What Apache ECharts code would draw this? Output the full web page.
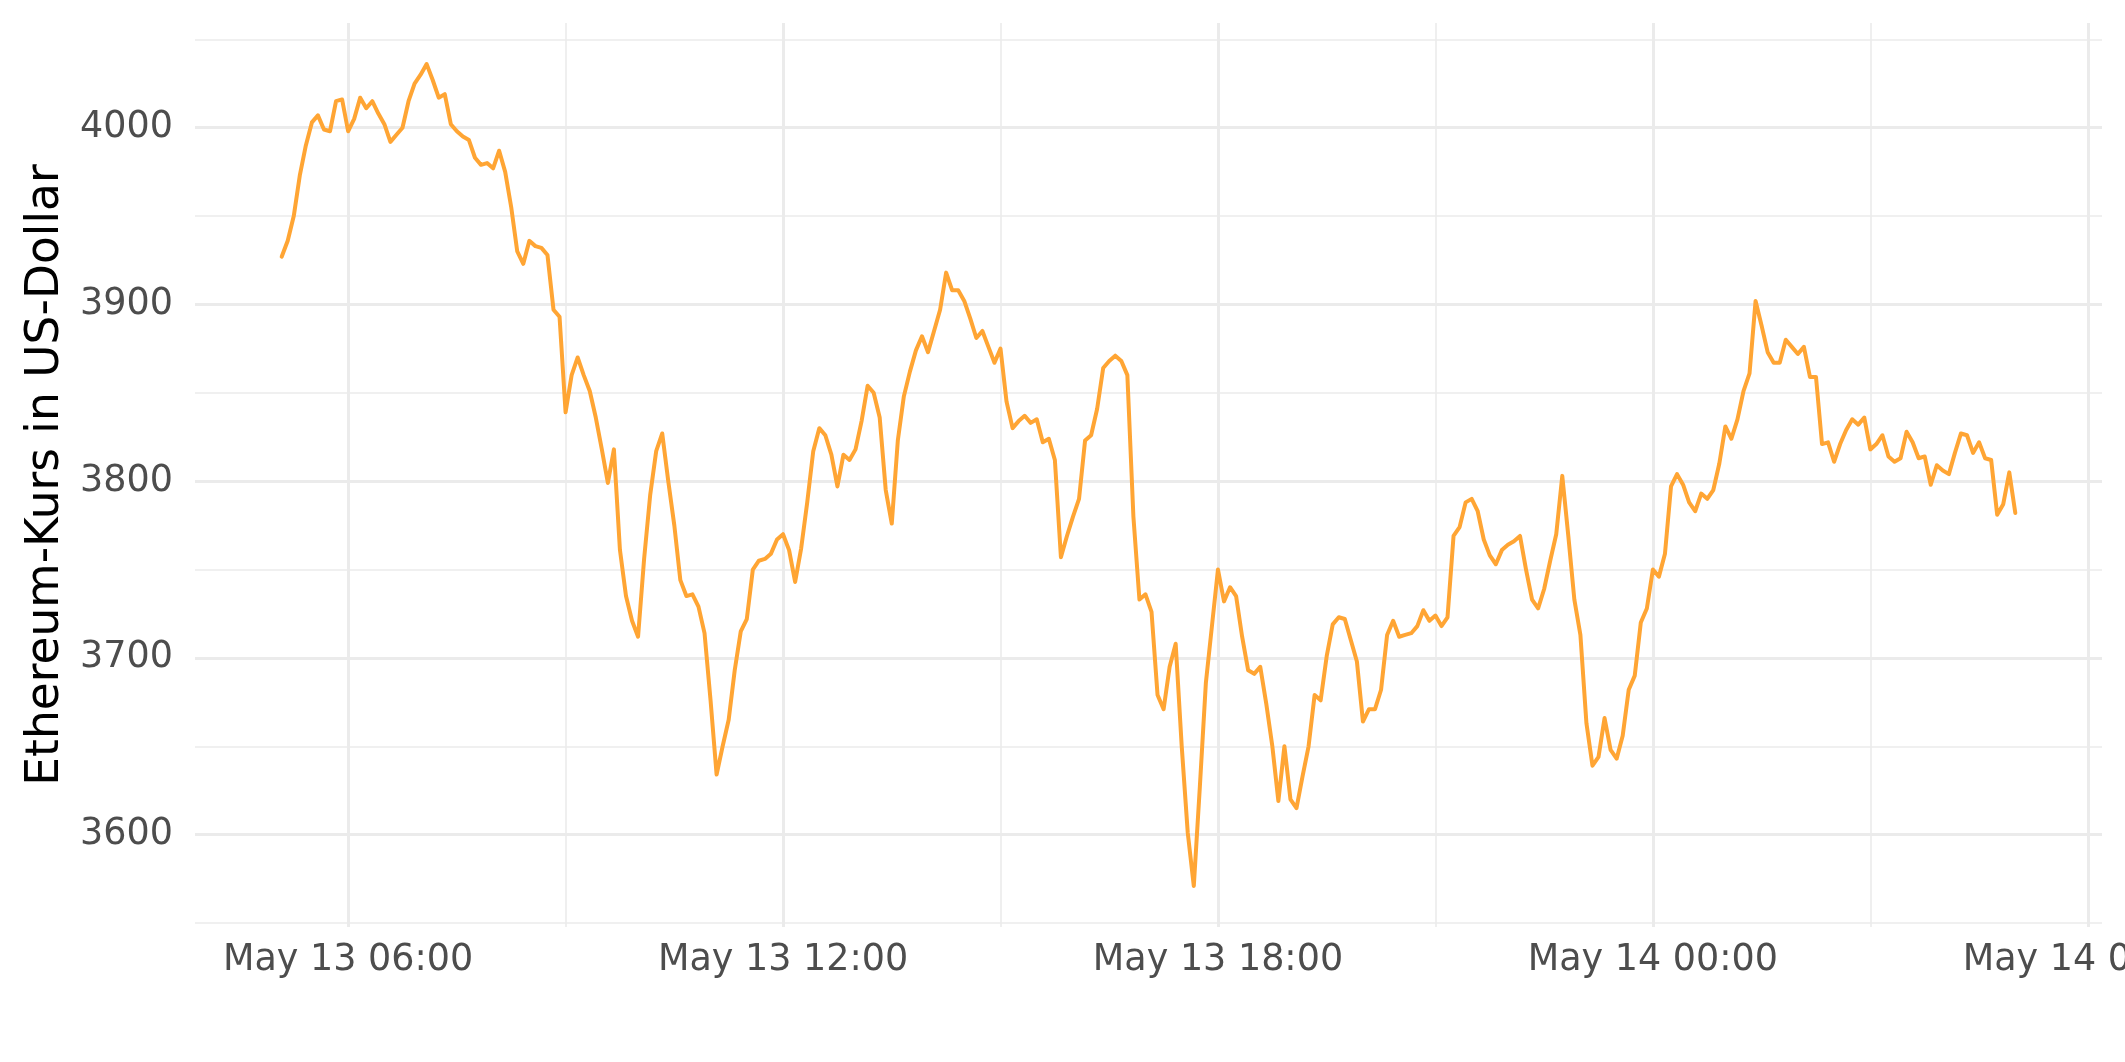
<!DOCTYPE html>
<html>
<head>
<meta charset="utf-8">
<script src="https://cdn.jsdelivr.net/npm/echarts@6/dist/echarts.min.js"></script>
<style>
  html, body { margin: 0; padding: 0; background: #ffffff; }
  #chart { width: 2125px; height: 1062px; }
</style>
</head>
<body>
<div id="chart"></div>
<script>
// ---- data ----
const startTime = Date.UTC(2021, 4, 13, 5, 5);   // first sample, May 13 05:05
const stepMinutes = 5;                            // one sample every 5 minutes

const prices = [
  3927,3936,3950,3973,3990,4003,4007,3999,3998,4015,
  4016,3998,4005,4017,4011,4015,4008,4002,3992,3996,
  4000,4015,4025,4030,4036,4027,4017,4019,4002,3998,
  3995,3993,3983,3979,3980,3977,3987,3975,3955,3930,
  3923,3936,3933,3932,3928,3897,3893,3839,3860,3870,
  3860,3851,3836,3818,3799,3818,3761,3735,3721,3712,
  3756,3792,3817,3827,3800,3775,3744,3735,3736,3729,
  3714,3676,3634,3650,3665,3693,3715,3722,3750,3755,
  3756,3759,3767,3770,3761,3743,3762,3788,3817,3830,
  3826,3815,3797,3815,3812,3818,3834,3854,3850,3836,
  3795,3776,3823,3848,3862,3874,3882,3873,3885,3897,
  3918,3908,3908,3902,3892,3881,3885,3876,3867,3875,
  3845,3830,3834,3837,3833,3835,3822,3824,3812,3757,
  3769,3780,3790,3823,3826,3841,3864,3868,3871,3868,
  3860,3780,3733,3736,3726,3679,3671,3695,3708,3650,
  3601,3571,3627,3686,3718,3750,3732,3740,3735,3712,
  3693,3691,3695,3674,3650,3619,3650,3620,3615,3633,
  3650,3679,3676,3701,3719,3723,3722,3710,3698,3664,
  3671,3671,3682,3713,3721,3712,3713,3714,3718,3727,
  3721,3724,3718,3723,3769,3774,3788,3790,3783,3767,
  3758,3753,3761,3764,3766,3769,3750,3733,3728,3739,
  3755,3770,3803,3769,3733,3713,3663,3639,3644,3666,
  3648,3643,3656,3682,3690,3720,3728,3750,3746,3759,
  3797,3804,3798,3788,3783,3793,3790,3795,3810,3831,
  3824,3835,3851,3861,3902,3888,3873,3867,3867,3880,
  3876,3872,3876,3859,3859,3821,3822,3811,3821,3829,
  3835,3832,3836,3818,3821,3826,3814,3811,3813,3828,
  3822,3813,3814,3798,3809,3806,3804,3816,3827,3826,
  3816,3822,3813,3812,3781,3787,3805,3782
];

const yMajorTicks = [3600, 3700, 3800, 3900, 4000];
const yMinorTicks = [3550, 3650, 3750, 3850, 3950, 4050];
const xMajorTicks = [
  Date.UTC(2021, 4, 13, 6), Date.UTC(2021, 4, 13, 12), Date.UTC(2021, 4, 13, 18),
  Date.UTC(2021, 4, 14, 0), Date.UTC(2021, 4, 14, 6)
];
const xMinorTicks = [
  Date.UTC(2021, 4, 13, 9), Date.UTC(2021, 4, 13, 15),
  Date.UTC(2021, 4, 13, 21), Date.UTC(2021, 4, 14, 3)
];
const monthNames = ['Jan','Feb','Mar','Apr','May','Jun','Jul','Aug','Sep','Oct','Nov','Dec'];
const yTitle = 'Ethereum-Kurs in US-Dollar';

// ---- build ----
const times = prices.map((_, i) => startTime + i * stepMinutes * 60000);
const seriesData = times.map((t, i) => [t, prices[i]]);

const tMin = times[0], tMax = times[times.length - 1], tSpan = tMax - tMin;
const pMin = Math.min(...prices), pMax = Math.max(...prices), pSpan = pMax - pMin;

function pad(n) { return (n < 10 ? '0' : '') + n; }
function fmtTime(v) {
  const d = new Date(Number(v));
  return monthNames[d.getUTCMonth()] + ' ' + d.getUTCDate() + ' ' +
         pad(d.getUTCHours()) + ':' + pad(d.getUTCMinutes());
}

const gridColor = '#ebebeb';
const majorW = 3, minorW = 1.6;
const gridLines = []
  .concat(yMajorTicks.map(v => ({ yAxis: v, lineStyle: { width: majorW, color: gridColor, type: 'solid' } })))
  .concat(yMinorTicks.map(v => ({ yAxis: v, lineStyle: { width: minorW, color: gridColor, type: 'solid' } })))
  .concat(xMajorTicks.map(v => ({ xAxis: v, lineStyle: { width: majorW, color: gridColor, type: 'solid' } })))
  .concat(xMinorTicks.map(v => ({ xAxis: v, lineStyle: { width: minorW, color: gridColor, type: 'solid' } })));

const font = 'DejaVu Sans';
const chart = echarts.init(document.getElementById('chart'), null, { renderer: 'canvas' });
chart.setOption({
  animation: false,
  backgroundColor: '#ffffff',
  grid: { left: 195, right: 23, top: 23, bottom: 135, containLabel: false, outerBoundsMode: 'none' },
  xAxis: {
    type: 'value',
    min: tMin - 0.05 * tSpan,
    max: tMax + 0.05 * tSpan,
    scale: true,
    axisLine: { show: false },
    axisTick: { show: false },
    splitLine: { show: false },
    axisLabel: {
      customValues: xMajorTicks,
      formatter: fmtTime,
      hideOverlap: false,
      fontFamily: font,
      fontSize: 36.5,
      color: '#4d4d4d',
      margin: 15
    }
  },
  yAxis: {
    type: 'value',
    min: pMin - 0.05 * pSpan,
    max: pMax + 0.05 * pSpan,
    scale: true,
    axisLine: { show: false },
    axisTick: { show: false },
    splitLine: { show: false },
    axisLabel: {
      customValues: yMajorTicks,
      formatter: v => String(Math.round(Number(v))),
      fontFamily: font,
      fontSize: 36.5,
      color: '#4d4d4d',
      margin: 22
    },
    name: yTitle,
    nameLocation: 'middle',
    nameRotate: 90,
    nameGap: 117,
    nameTextStyle: { fontFamily: font, fontSize: 45.5, color: '#000000' }
  },
  series: [
    {
      name: 'grid',
      type: 'line',
      data: [],
      silent: true,
      z: 1,
      markLine: {
        silent: true,
        z: 1,
        symbol: ['none', 'none'],
        label: { show: false },
        emphasis: { disabled: true },
        animation: false,
        data: gridLines
      }
    },
    {
      name: 'ETH',
      type: 'line',
      data: seriesData,
      z: 3,
      showSymbol: false,
      symbol: 'none',
      lineStyle: { color: '#ffa534', width: 4, join: 'round', cap: 'round' },
      itemStyle: { color: '#ffa534' }
    }
  ]
});
</script>
</body>
</html>
